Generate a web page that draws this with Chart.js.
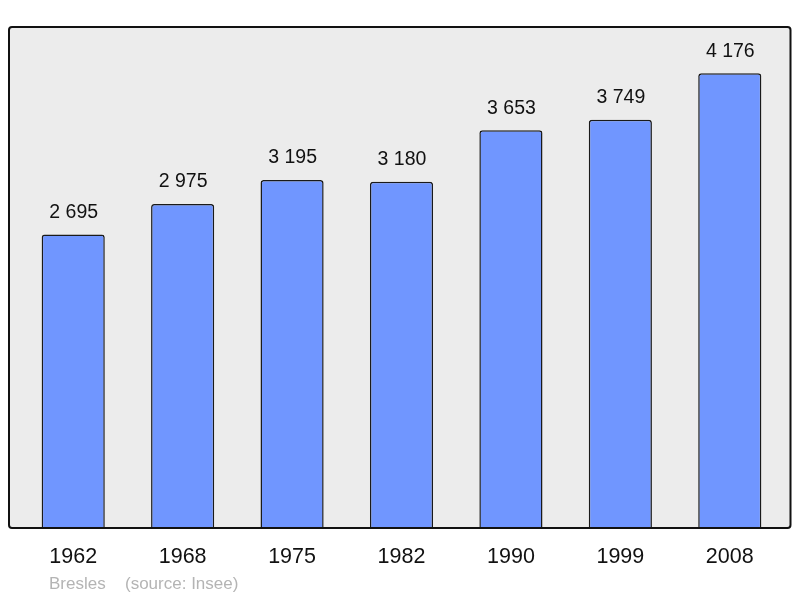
<!DOCTYPE html>
<html>
<head>
<meta charset="utf-8">
<script src="https://cdn.jsdelivr.net/npm/chart.js@4"></script>
<style>
  html, body { margin:0; padding:0; background:#fff; }
  #wrap { width:800px; height:598px; }
</style>
</head>
<body>
<div id="wrap"><canvas id="popChart" width="800" height="598"></canvas></div>
<script>
// population per census year
const years = ['1962','1968','1975','1982','1990','1999','2008'];
const population = [2695, 2975, 3195, 3180, 3653, 3749, 4176];
const townName = 'Bresles';
const sourceText = '(source: Insee)';

function fmt(n){
  return String(n).replace(/\B(?=(\d{3})+(?!\d))/g, ' ');
}

// grey panel with black rounded frame behind the bars
const framePlugin = {
  id: 'frame',
  beforeDraw(chart){
    const {ctx, chartArea:a} = chart;
    const x0 = a.left - 9.5, x1 = a.right + 6, y0 = a.top, y1 = a.bottom;
    ctx.save();
    ctx.beginPath();
    ctx.roundRect(x0, y0, x1 - x0, y1 - y0, 3);
    ctx.fillStyle = '#ececec';
    ctx.fill();
    ctx.restore();
  },
  afterDatasetsDraw(chart){
    const {ctx, chartArea:a} = chart;
    const x0 = a.left - 9.5, x1 = a.right + 6, y0 = a.top, y1 = a.bottom;
    ctx.save();
    ctx.beginPath();
    ctx.roundRect(x0, y0, x1 - x0, y1 - y0, 3);
    ctx.lineWidth = 2;
    ctx.strokeStyle = '#111';
    ctx.stroke();

    // value labels above bars
    const meta = chart.getDatasetMeta(0);
    ctx.fillStyle = '#111';
    ctx.font = '19.5px "Liberation Sans", Arial, sans-serif';
    ctx.textAlign = 'center';
    ctx.textBaseline = 'middle';
    meta.data.forEach((bar, i) => {
      ctx.fillText(fmt(population[i]), bar.x + 0.5, bar.y - 22);
    });

    // footer
    ctx.fillStyle = '#b4b4b4';
    ctx.font = '17px "Liberation Sans", Arial, sans-serif';
    ctx.textAlign = 'left';
    ctx.fillText(townName, 49, 584.5);
    ctx.fillText(sourceText, 125, 584.5);
    ctx.restore();
  }
};

new Chart(document.getElementById('popChart').getContext('2d'), {
  type: 'bar',
  data: {
    labels: years,
    datasets: [{
      data: population,
      backgroundColor: '#7096ff',
      borderColor: '#1a1a1a',
      borderWidth: 1.5,
      borderRadius: 3,
      borderSkipped: 'bottom',
      categoryPercentage: 1,
      barPercentage: 0.577
    }]
  },
  options: {
    responsive: false,
    animation: false,
    layout: { padding: { left: 18.5, right: 15.5, top: 27, bottom: 0 } },
    plugins: { legend: { display: false }, tooltip: { enabled: false } },
    scales: {
      y: { display: false, min: 0, max: 4600 },
      x: {
        grid: { display: false, drawTicks: false },
        border: { display: false },
        ticks: {
          color: '#111',
          padding: 16,
          font: { family: '"Liberation Sans", Arial, sans-serif', size: 21.5 }
        },
        afterFit(scale){ scale.height = 70; }
      }
    }
  },
  plugins: [framePlugin]
});
</script>
</body>
</html>
